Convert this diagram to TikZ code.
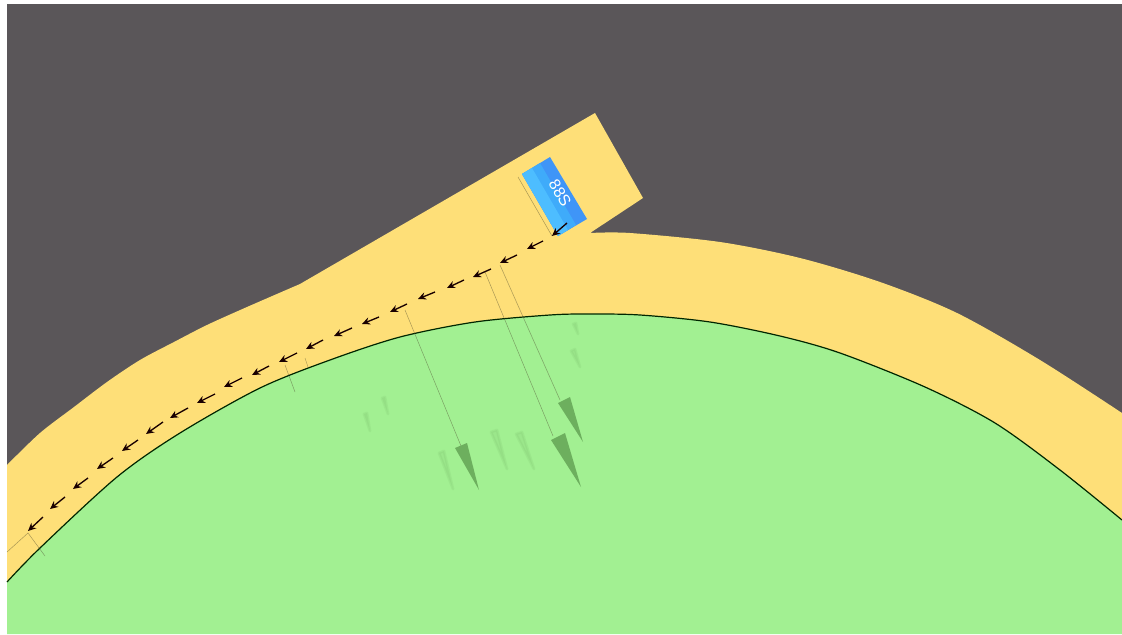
\documentclass[tikz,border=0pt]{standalone}
\usepackage{xcolor}
\usepackage{tikz}
\usepackage{fontspec}
\setmainfont{Liberation Sans}
\usetikzlibrary{arrows.meta}
\definecolor{groundgray}{HTML}{5A5659}
\definecolor{roadyellow}{HTML}{FEDF78}
\definecolor{grassgreen}{HTML}{A2F092}
\definecolor{markgreen}{HTML}{6DAF5E}
\definecolor{labelblue}{HTML}{3F95F7}
\definecolor{labelmid}{HTML}{3FABFA}
\definecolor{labelsky}{HTML}{4DBDFF}
\begin{document}
\begin{tikzpicture}[x=0.75pt, y=-0.75pt, >={Stealth[length=6pt, width=5.5pt]},
        flow/.style={->, line width=1pt, black!90!red},
        guide/.style={draw=black!60!olive, opacity=.5, line width=.35pt},
        arrowmark/.style={fill=markgreen, draw=none},
        ghost/.style={fill=markgreen, draw=markgreen, line width=2pt, line join=round, opacity=.13},
    ]
    \useasboundingbox (0,0) rectangle (1122,635);

    % Ground
    \fill[groundgray] (7,4) rectangle (1122,634);

    % Road
    \fill[roadyellow] plot[smooth, tension=.5] coordinates {(7,465) (40,433) (74,407) (107,382) (140,360) (174,342) (207,325) (247,307) (300,284)}
        -- (595,113) -- (643,198) -- (590,233)
        -- plot[smooth, tension=.5] coordinates {(590,233) (630,233) (720,242) (800,258) (880,282) (957,313) (1040,360) (1122,413)}
        -- (1122,530) -- (7,590) -- cycle;

    % Grass
    \fill[grassgreen] plot[smooth, tension=.5] coordinates {(7,582) (40,548) (117,477) (180,433)
        (260,388) (330,360) (400,337) (475,322) (550,315) (590,314) (640,315) (710,322)
        (780,336) (840,353) (925,387) (995,423) (1060,470) (1122,520)}
        -- (1122,634) -- (7,634) -- cycle;
    \draw[black!85!green, line width=.9pt] plot[smooth, tension=.5] coordinates {(7,582) (40,548) (117,477) (180,433)
        (260,388) (330,360) (400,337) (475,322) (550,315) (590,314) (640,315) (710,322)
        (780,336) (840,353) (925,387) (995,423) (1060,470) (1122,520)};

    % Label
    \fill[labelblue] (522,174) -- (550,157) -- (587,219) -- (558,236) -- cycle;
    \fill[labelmid] (522,174) -- (540,163) -- (576,225) -- (558,236) -- cycle;
    \fill[labelsky] (522,174) -- (532,168) -- (568,230) -- (558,236) -- cycle;
    \node[text=white, font=\large, rotate=-60, inner sep=0pt] (label) at (560,193) {88S};

    % Faint marks
    \fill[ghost, draw] (439,453) -- (444,451) -- (453,489) -- cycle;
    \fill[ghost, draw] (491,432) -- (497,430) -- (507,469) -- cycle;
    \fill[ghost, draw] (516,434) -- (522,432) -- (534,469) -- cycle;
    \fill[ghost, draw] (364,414) -- (367,413) -- (370,431) -- cycle;
    \fill[ghost, draw] (382,398) -- (385,397) -- (388,414) -- cycle;
    \fill[ghost, draw] (571,351) -- (575,349) -- (580,367) -- cycle;
    \fill[ghost, draw] (573,324) -- (576,323) -- (578,334) -- cycle;
    \draw[guide] (285,365) -- (295,392);
    \draw[guide] (305,358) -- (308,367);
    \draw[guide] (518,177) -- (552,236);

    % Lane guides
    \coordinate (g1) at (500,265);
    \coordinate (g2) at (485,272);
    \coordinate (g3) at (405,310);
    \coordinate (g4) at (28,533);
    \draw[guide] (g1) -- (560,400);
    \draw[guide] (g2) -- (553,436);
    \draw[guide] (g3) -- (461,446);
    \draw[guide] (7,552) -- (g4) -- (45,556);

    % Green arrows
    \fill[arrowmark] (558,403) -- (570,397) -- (583,442) -- cycle;
    \fill[arrowmark] (551,440) -- (565,433) -- (581,487) -- cycle;
    \fill[arrowmark] (455,448) -- (467,443) -- (479,490) -- cycle;

    % Flow arrows
    \foreach \tx/\ty/\hx/\hy in {567/223/552/236, 543/241/527/249, 517/255/500/263, 491/269/473/277,
        464/280/447/288, 435/292/418/299, 407/304/390/312, 379/317/362/324, 352/328/334/336,
        323/340/306/349, 297/353/279/362, 269/366/252/375, 242/378/224/387, 215/394/197/403,
        188/408/170/418, 163/422/146/434, 138/440/122/451, 113/458/97/469, 88/478/73/489,
        65/497/50/509, 43/517/28/531}
        \draw[flow] (\tx,\ty) -- (\hx,\hy);
\end{tikzpicture}
\end{document}
